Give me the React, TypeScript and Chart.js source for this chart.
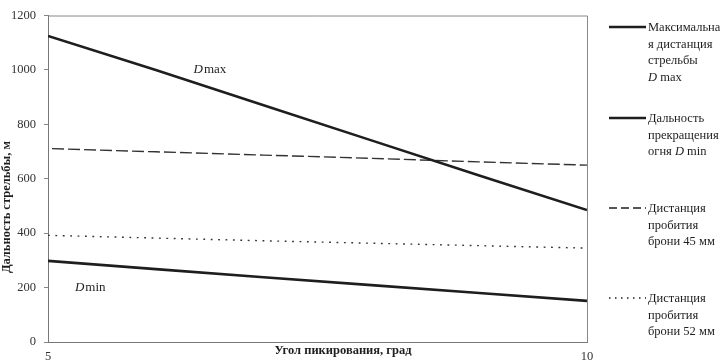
import React, { useEffect, useRef } from "react";
import { Chart, registerables } from "chart.js";

Chart.register(...registerables);

// ---- data ----
const angles = [5, 6, 7, 8, 9, 10];
const dMax = [1125, 1000, 870, 741, 612, 485];
const dMin = [298, 268, 238, 209, 180, 151];
const pen45 = [711, 699, 687, 675, 662, 650];
const pen52 = [392, 382, 372, 363, 354, 345];
const yTickValues = [0, 200, 400, 600, 800, 1000, 1200];
const xTickValues = [5, 10];
const xTitle = "Угол пикирования, град";
const yTitle = "Дальность стрельбы, м";

const FONT = '"Liberation Serif", "Times New Roman", serif';
const INK = "#1e1e1e";

const toPts = (ys: number[]) => ys.map((y, i) => ({ x: angles[i], y }));

const legendItems = [
  { y: 27, dash: "", width: 2.5, lines: ["Максимальна", "я дистанция", "стрельбы", "@D max"] },
  { y: 118, dash: "", width: 2.5, lines: ["Дальность", "прекращения", "огня @D min"] },
  { y: 208, dash: "8 4", width: 1.3, lines: ["Дистанция", "пробития", "брони 45 мм"] },
  { y: 298, dash: "1.5 4.5", width: 1.3, lines: ["Дистанция", "пробития", "брони 52 мм"] },
];

function renderLine(text: string) {
  const m = text.match(/^(.*)@D(.*)$/);
  if (!m) return text;
  return (
    <>
      {m[1]}
      <i>D</i>
      {m[2]}
    </>
  );
}

const overlay = {
  id: "overlay",
  afterDraw(chart: any) {
    const { ctx, chartArea, scales } = chart;
    const { left, right, top, bottom } = chartArea;
    ctx.save();
    // frame top and right
    ctx.strokeStyle = "#888";
    ctx.lineWidth = 1;
    ctx.beginPath();
    ctx.moveTo(left, top + 0.5);
    ctx.lineTo(right + 0.5, top + 0.5);
    ctx.lineTo(right + 0.5, bottom);
    ctx.stroke();

    // curve labels
    const drawD = (xv: number, yv: number, rest: string) => {
      const px = scales.x.getPixelForValue(xv);
      const py = scales.y.getPixelForValue(yv);
      ctx.fillStyle = INK;
      ctx.textBaseline = "middle";
      ctx.textAlign = "left";
      ctx.font = `italic 13px ${FONT}`;
      ctx.fillText("D", px, py);
      const w = ctx.measureText("D").width;
      ctx.font = `13px ${FONT}`;
      ctx.fillText(rest, px + w + 1, py);
    };
    drawD(6.35, 1000, "max");
    drawD(5.25, 200, "min");

    // x tick labels
    ctx.fillStyle = "#333";
    ctx.font = `12.5px ${FONT}`;
    ctx.textAlign = "center";
    ctx.textBaseline = "middle";
    xTickValues.forEach((v) => {
      ctx.fillText(String(v), scales.x.getPixelForValue(v), 357);
    });

    // axis titles
    ctx.fillStyle = INK;
    ctx.font = `bold 12.5px ${FONT}`;
    ctx.fillText(xTitle, 343, 351);
    ctx.translate(7, 207);
    ctx.rotate(-Math.PI / 2);
    ctx.fillText(yTitle, 0, 0);
    ctx.restore();
  },
};

export default function App() {
  const ref = useRef<HTMLCanvasElement | null>(null);
  useEffect(() => {
    document.body.style.margin = "0";
    const chart = new Chart(ref.current as HTMLCanvasElement, {
      type: "line",
      data: {
        datasets: [
          {
            label: "Dmax",
            data: toPts(dMax),
            borderColor: INK,
            borderWidth: 2.6,
            pointRadius: 0,
            tension: 0,
          },
          {
            label: "Dmin",
            data: toPts(dMin),
            borderColor: INK,
            borderWidth: 2.6,
            pointRadius: 0,
            tension: 0,
          },
          {
            label: "45",
            data: toPts(pen45),
            borderColor: "#333",
            borderWidth: 1.4,
            borderDash: [12, 4],
            borderDashOffset: 12,
            pointRadius: 0,
            tension: 0,
          },
          {
            label: "52",
            data: toPts(pen52),
            borderColor: "#333",
            borderWidth: 1.4,
            borderDash: [1.8, 5.6],
            pointRadius: 0,
            tension: 0,
          },
        ],
      },
      options: {
        animation: false,
        responsive: false,
        maintainAspectRatio: false,
        layout: { padding: { top: 8, right: 137, left: 0, bottom: 0 } },
        plugins: { legend: { display: false }, tooltip: { enabled: false } },
        scales: {
          x: {
            type: "linear",
            min: 5,
            max: 10,
            afterBuildTicks: (s: any) => {
              s.ticks = xTickValues.map((v) => ({ value: v }));
            },
            afterFit: (s: any) => {
              s.height = 21;
            },
            ticks: { display: false },
            grid: { display: false },
            border: { display: true, color: "#777", width: 1 },
          },
          y: {
            min: 0,
            max: 1200,
            afterBuildTicks: (s: any) => {
              s.ticks = yTickValues.map((v) => ({ value: v }));
            },
            afterFit: (s: any) => {
              s.width = 48;
            },
            ticks: {
              color: "#333",
              font: { family: FONT, size: 12.5 },
              padding: 8,
              callback: (v: any) => String(v),
            },
            grid: { drawOnChartArea: false, drawTicks: true, tickLength: 4, color: "#888" },
            border: { display: true, color: "#777", width: 1 },
          },
        },
      },
      plugins: [overlay],
    } as any);
    return () => chart.destroy();
  }, []);

  return (
    <div style={{ position: "relative", width: 724, height: 363, background: "#fff" }}>
      <canvas ref={ref} width={724} height={363} style={{ position: "absolute", left: 0, top: 0 }} />
      {legendItems.map((it, i) => (
        <div key={i}>
          <svg
            width={38}
            height={6}
            style={{ position: "absolute", left: 609, top: it.y - 3 }}
          >
            <line
              x1={0}
              y1={3}
              x2={37}
              y2={3}
              stroke={INK}
              strokeWidth={it.width}
              strokeDasharray={it.dash || undefined}
            />
          </svg>
          <div
            style={{
              position: "absolute",
              left: 648,
              top: it.y - 8,
              fontFamily: FONT,
              fontSize: 12.5,
              lineHeight: "16.5px",
              color: INK,
              whiteSpace: "nowrap",
            }}
          >
            {it.lines.map((l, j) => (
              <div key={j}>{renderLine(l)}</div>
            ))}
          </div>
        </div>
      ))}
    </div>
  );
}
